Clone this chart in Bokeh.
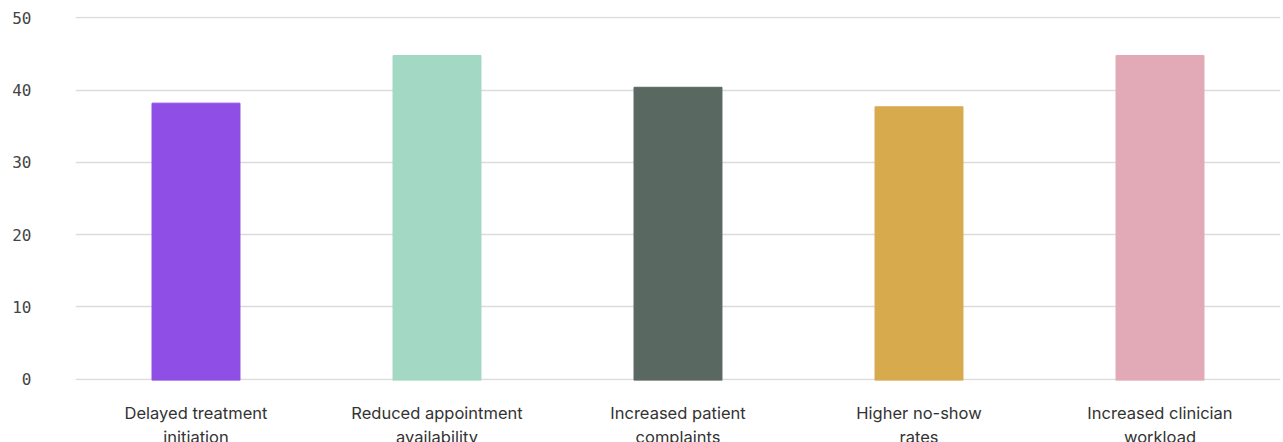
from bokeh.plotting import figure
from bokeh.models import ColumnDataSource, FactorRange, Range1d, FixedTicker
from bokeh.embed import file_html
from bokeh.resources import INLINE

categories = ["Delayed treatment\ninitiation", "Reduced appointment\navailability",
              "Increased patient\ncomplaints", "Higher no-show\nrates",
              "Increased clinician\nworkload"]
values = [38.2, 44.8, 40.4, 37.7, 44.8]
colors = ["#8f4ee6", "#a3d8c4", "#5a6862", "#d8aa4e", "#e2aab6"]
y_ticks = [0, 10, 20, 30, 40, 50]

src = ColumnDataSource(dict(cat=categories, val=values, color=colors))

p = figure(frame_width=1205, frame_height=364, x_range=FactorRange(*categories),
           y_range=Range1d(-0.2, 50.2), output_backend="svg", toolbar_location=None,
           min_border_left=75, min_border_right=3, min_border_top=16, min_border_bottom=63)
p.vbar(x="cat", top="val", bottom=-0.2, width=0.365, color="color", source=src)

p.outline_line_color = None
p.xgrid.grid_line_color = None
p.ygrid.grid_line_color = "#dcdcdc"
p.ygrid.grid_line_width = 1.5
p.yaxis.ticker = FixedTicker(ticks=y_ticks)
p.x_range.range_padding = 0
for ax in (p.xaxis, p.yaxis):
    ax.axis_line_color = None
    ax.major_tick_line_color = None
    ax.minor_tick_line_color = None
    ax.major_label_text_color = "#333333"
p.yaxis.major_label_text_font = "DejaVu Sans Mono"
p.yaxis.major_label_text_font_size = "16px"
p.yaxis.major_label_text_color = "#444444"
p.yaxis.major_label_standoff = 38
p.xaxis.major_label_text_font = "Inter"
p.xaxis.major_label_text_font_size = "16.5px"
p.xaxis.major_label_standoff = 16

open("out.html", "w").write(file_html(p, INLINE))
